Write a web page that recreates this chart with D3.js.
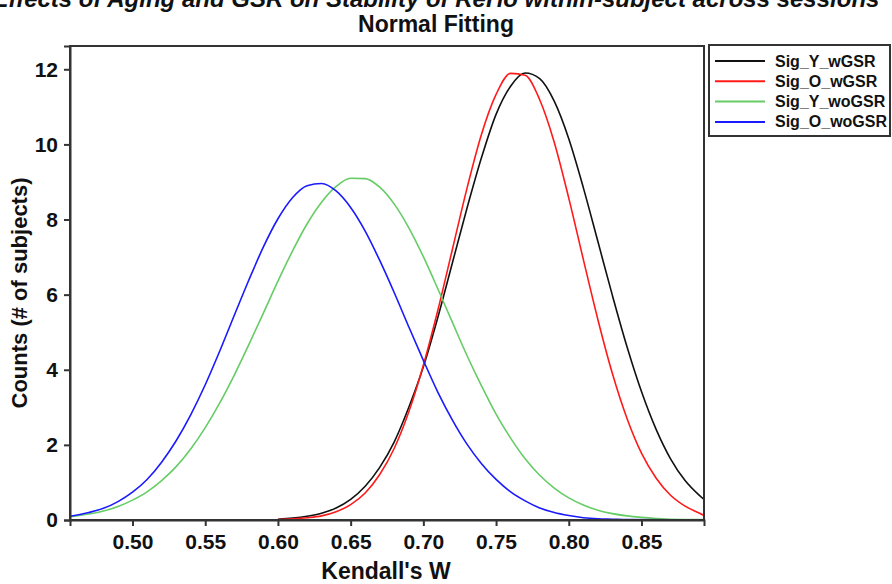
<!DOCTYPE html>
<html>
<head>
<meta charset="utf-8">
<script src="https://cdn.jsdelivr.net/npm/d3@7"></script>
<style>
  html, body { margin: 0; padding: 0; background: #fff; }
  svg { display: block; font-family: "Liberation Sans", Arial, sans-serif; }
</style>
</head>
<body>
<svg id="chart" width="892" height="584"></svg>
<script>
// ---- data ----
const titleLines = ["Effects of Aging and GSR on Stability of ReHo within-subject across sessions", "Normal Fitting"];
const xLabel = "Kendall's W";
const yLabel = "Counts (# of subjects)";
const seriesNames = ["Sig_Y_wGSR", "Sig_O_wGSR", "Sig_Y_woGSR", "Sig_O_woGSR"];
const seriesColors = ["#111111", "#ff1a1a", "#66cc66", "#1a1aff"];
const xTicks = [0.50, 0.55, 0.60, 0.65, 0.70, 0.75, 0.80, 0.85];
const yTicks = [0, 2, 4, 6, 8, 10, 12];
const xDomain = [0.457, 0.893];
const yDomain = [0, 12.62];

// Sig_Y_wGSR (black)
const sigYwX = [0.60,0.61,0.62,0.63,0.64,0.65,0.66,0.67,0.68,0.69,0.70,0.71,0.72,0.73,0.74,0.75,0.76,0.77,0.78,0.79,0.80,0.81,0.82,0.83,0.84,0.85,0.86,0.87,0.88,0.89,0.893];
const sigYwY = [0.02,0.05,0.10,0.18,0.32,0.55,0.90,1.40,2.08,3.00,4.08,5.40,6.85,8.30,9.65,10.80,11.55,11.90,11.75,11.15,10.15,8.85,7.42,5.98,4.62,3.42,2.42,1.63,1.05,0.65,0.55];
// Sig_O_wGSR (red)
const sigOwX = [0.60,0.61,0.62,0.63,0.64,0.65,0.66,0.67,0.68,0.69,0.70,0.71,0.72,0.73,0.74,0.75,0.76,0.77,0.78,0.79,0.80,0.81,0.82,0.83,0.84,0.85,0.86,0.87,0.88,0.89,0.893];
const sigOwY = [0.01,0.03,0.06,0.11,0.22,0.41,0.72,1.21,1.91,2.88,4.12,5.59,7.21,8.83,10.27,11.33,11.89,11.84,11.19,10.06,8.57,6.94,5.34,3.90,2.71,1.78,1.12,0.66,0.37,0.18,0.12];
// Sig_Y_woGSR (green)
const sigYwoX = [0.457,0.47,0.48,0.49,0.50,0.51,0.52,0.53,0.54,0.55,0.56,0.57,0.58,0.59,0.60,0.61,0.62,0.63,0.64,0.65,0.66,0.67,0.68,0.69,0.70,0.71,0.72,0.73,0.74,0.75,0.76,0.77,0.78,0.79,0.80,0.81,0.82,0.83,0.84,0.85,0.86,0.87,0.893];
const sigYwoY = [0.09,0.16,0.24,0.36,0.53,0.75,1.05,1.42,1.89,2.46,3.12,3.86,4.67,5.51,6.36,7.16,7.88,8.46,8.88,9.10,9.09,8.86,8.41,7.78,7.01,6.15,5.26,4.38,3.57,2.82,2.18,1.63,1.19,0.85,0.59,0.40,0.26,0.17,0.11,0.07,0.04,0.02,0.01];
// Sig_O_woGSR (blue)
const sigOwoX = [0.457,0.47,0.48,0.49,0.50,0.51,0.52,0.53,0.54,0.55,0.56,0.57,0.58,0.59,0.60,0.61,0.62,0.63,0.64,0.65,0.66,0.67,0.68,0.69,0.70,0.71,0.72,0.73,0.74,0.75,0.76,0.77,0.78,0.79,0.80,0.81,0.82,0.83,0.84,0.893];
const sigOwoY = [0.10,0.20,0.31,0.49,0.74,1.08,1.54,2.11,2.80,3.60,4.50,5.45,6.39,7.27,8.02,8.58,8.90,8.96,8.76,8.32,7.69,6.91,6.05,5.14,4.25,3.40,2.66,2.02,1.50,1.08,0.75,0.51,0.32,0.20,0.12,0.06,0.03,0.02,0.01,0.00];

const seriesX = [sigYwX, sigOwX, sigYwoX, sigOwoX];
const seriesY = [sigYwY, sigOwY, sigYwoY, sigOwoY];

// ---- layout ----
const svg = d3.select("#chart");
const plot = { left: 70, right: 704, top: 46, bottom: 520 };
const x = d3.scaleLinear().domain(xDomain).range([plot.left, plot.right]);
const y = d3.scaleLinear().domain(yDomain).range([plot.bottom, plot.top]);

svg.append("rect").attr("width", 892).attr("height", 584).attr("fill", "#fff");

// curves
const line = d3.line().x(d => x(d[0])).y(d => y(d[1])).curve(d3.curveMonotoneX);
svg.append("clipPath").attr("id", "clip").append("rect")
  .attr("x", plot.left).attr("y", plot.top - 2)
  .attr("width", plot.right - plot.left).attr("height", plot.bottom - plot.top + 4);

const curves = svg.append("g").attr("clip-path", "url(#clip)");
seriesNames.forEach((name, i) => {
  const pts = seriesX[i].map((v, j) => [v, seriesY[i][j]]);
  curves.append("path")
    .datum(pts)
    .attr("fill", "none")
    .attr("stroke", seriesColors[i])
    .attr("stroke-width", 1.6)
    .attr("d", line);
});

// frame
const axisColor = "#333";
svg.append("rect")
  .attr("x", plot.left).attr("y", plot.top)
  .attr("width", plot.right - plot.left).attr("height", plot.bottom - plot.top)
  .attr("fill", "none").attr("stroke", axisColor).attr("stroke-width", 2);

// axes
const xAxis = d3.axisBottom(x).tickValues(xTicks).tickFormat(d3.format(".2f")).tickSize(6).tickPadding(8);
const gx = svg.append("g").attr("transform", `translate(0,${plot.bottom})`).call(xAxis);
const yAxis = d3.axisLeft(y).tickValues(yTicks).tickFormat(d3.format("d")).tickSize(6).tickPadding(6);
const gy = svg.append("g").attr("transform", `translate(${plot.left},0)`).call(yAxis);
[gx, gy].forEach(g => {
  g.select(".domain").attr("stroke", axisColor).attr("stroke-width", 2);
  g.selectAll(".tick line").attr("stroke", axisColor).attr("stroke-width", 2);
  g.selectAll(".tick text").attr("fill", "#111").style("font-size", "21px").style("font-weight", "bold")
    .style("font-family", '"Liberation Sans", Arial, sans-serif');
});

// axis labels
svg.append("text").attr("x", 386).attr("y", 579).attr("text-anchor", "middle")
  .style("font-size", "23px").style("font-weight", "bold").attr("fill", "#111").text(xLabel);
svg.append("text").attr("transform", "translate(27,293) rotate(-90)").attr("text-anchor", "middle")
  .style("font-size", "22px").style("font-weight", "bold").attr("fill", "#111").text(yLabel);

// title (first line is cut off at the top edge, as in the reference)
svg.append("text").attr("x", 436).attr("y", 7).attr("text-anchor", "middle")
  .style("font-size", "24px").style("font-weight", "bold").style("font-style", "italic").attr("fill", "#111").text(titleLines[0]);
svg.append("text").attr("x", 436).attr("y", 32).attr("text-anchor", "middle")
  .style("font-size", "23px").style("font-weight", "bold").attr("fill", "#111").text(titleLines[1]);

// legend
const lg = svg.append("g");
lg.append("rect").attr("x", 709).attr("y", 45).attr("width", 181).attr("height", 91)
  .attr("fill", "#fff").attr("stroke", axisColor).attr("stroke-width", 2);
seriesNames.forEach((name, i) => {
  const yy = 61 + i * 20.3;
  lg.append("line").attr("x1", 715).attr("x2", 765).attr("y1", yy).attr("y2", yy)
    .attr("stroke", seriesColors[i]).attr("stroke-width", 2);
  lg.append("text").attr("x", 775).attr("y", yy + 5.5)
    .style("font-size", "16px").style("font-weight", "bold").attr("fill", "#111").text(name);
});
</script>
</body>
</html>
